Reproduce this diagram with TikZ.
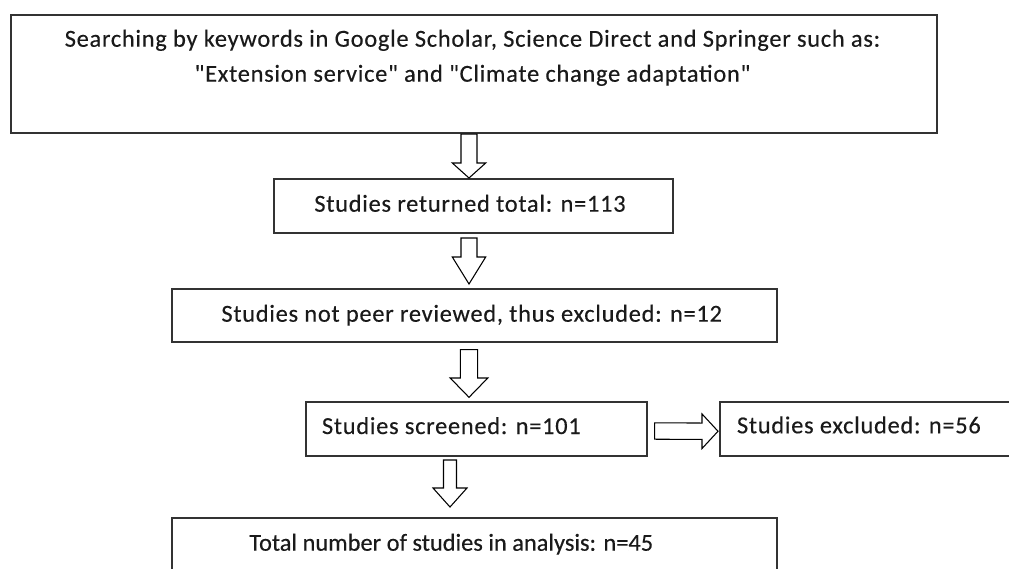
\documentclass[tikz,border=0pt]{standalone}
\usepackage{fontspec}
\newfontfamily\carl{Carlito}[FakeBold=0.3]
\newfontfamily\carlw{Carlito}[LetterSpace=3.0,FakeBold=0.3]
\usetikzlibrary{calc}
\definecolor{txtc}{HTML}{1A1A1A}
\definecolor{boxc}{HTML}{333333}
\tikzset{
 box/.style={draw=boxc, line width=1.5pt, inner sep=0pt, anchor=north west, fill=white},
 lbl/.style={inner sep=0pt, text=txtc, font=\carlw\fontsize{18.3}{26}\selectfont},
 lbln/.style={inner sep=0pt, text=txtc, font=\carl\fontsize{18.3}{26}\selectfont},
 blk/.style={draw=black, line width=0.8pt, fill=white, line join=miter},
}
\newcommand\blkdown[5]{%
 \draw[blk] ($(#1)+(-#4,0)$) -- ($(#1)+(#4,0)$) -- ($(#2)+(#4,-#3)$) -- ($(#2)+(#5,-#3)$) -- (#2) -- ($(#2)+(-#5,-#3)$) -- ($(#2)+(-#4,-#3)$) -- cycle;}
\newcommand\blkright[5]{%
 \draw[blk] ($(#1)+(0,-#4)$) -- ($(#2)+(-#3,-#4)$) -- ($(#2)+(-#3,-#5)$) -- (#2) -- ($(#2)+(-#3,#5)$) -- ($(#2)+(-#3,#4)$) -- ($(#1)+(0,#4)$) -- cycle;}
\begin{document}
\begin{tikzpicture}[x=0.75pt,y=-0.75pt]
\clip (0,0) rectangle (1009,568);
\fill[white] (0,0) rectangle (1009,568);
% boxes
\node[box, minimum width=694.5pt, minimum height=88.9pt] (b1) at (10,13.5) {};
\node[box, minimum width=299.25pt, minimum height=40.5pt] (b2) at (272.7,178) {};
\node[box, minimum width=453.75pt, minimum height=39.5pt] (b3) at (170.7,288) {};
\node[box, minimum width=255.5pt, minimum height=40.35pt] (b4) at (305,400.7) {};
\node[box, minimum width=225.75pt, minimum height=40.7pt] (b5) at (719,400.7) {};
\node[box, minimum width=453.75pt, minimum height=62.5pt] (b6) at (170.7,516.7) {};
% labels
\node[lbl, anchor=base] (t1a) at (472.5,46.7) {Searching by keywords in Google Scholar, Science Direct and Springer such as:};
\node[lbl, anchor=base] (t1b) at (472.5,81.7) {"Extension service" and "Climate change adaptation"};
\node[lbl, anchor=base] (t2) at (470,211.7) {Studies returned total: n=113};
\node[lbl, anchor=base] (t3) at (471.7,321.7) {Studies not peer reviewed, thus excluded: n=12};
\node[lbl, anchor=base west] (t4) at (321.7,434) {Studies screened: n=101};
\node[lbl, anchor=base west] (t5) at (736.7,433.3) {Studies excluded: n=56};
\node[lbln, anchor=base] (t6) at (451.3,550.7) {Total number of studies in analysis: n=45};
% arrows
\coordinate (xa) at (469,0);
\coordinate (xb) at (450,0);
\coordinate (a1s) at (b1.south -| xa);
\coordinate (a1t) at (b2.north -| xa);
\coordinate (a2s) at ($(b2.south -| xa)+(0,4)$);
\coordinate (a2t) at ($(b3.north -| xa)+(0,-4)$);
\coordinate (a3s) at ($(b3.south -| xa)+(0,7)$);
\coordinate (a3t) at ($(b4.north -| xa)+(0,-3.4)$);
\coordinate (a4s) at ($(b4.south -| xb)+(0,3.5)$);
\coordinate (a4t) at ($(b6.north -| xb)+(0,-9.7)$);
\coordinate (a5s) at ($(b4.east)+(7,2.4)$);
\coordinate (a5t) at ($(b5.west)+(-1,2.4)$);
\blkdown{a1s}{a1t}{15}{8}{16.7}
\blkdown{a2s}{a2t}{27}{8}{16.7}
\blkdown{a3s}{a3t}{19.3}{8.7}{18.8}
\blkdown{a4s}{a4t}{19}{6.5}{17}
\blkright{a5s}{a5t}{16}{8.2}{17.3}
\end{tikzpicture}
\end{document}
